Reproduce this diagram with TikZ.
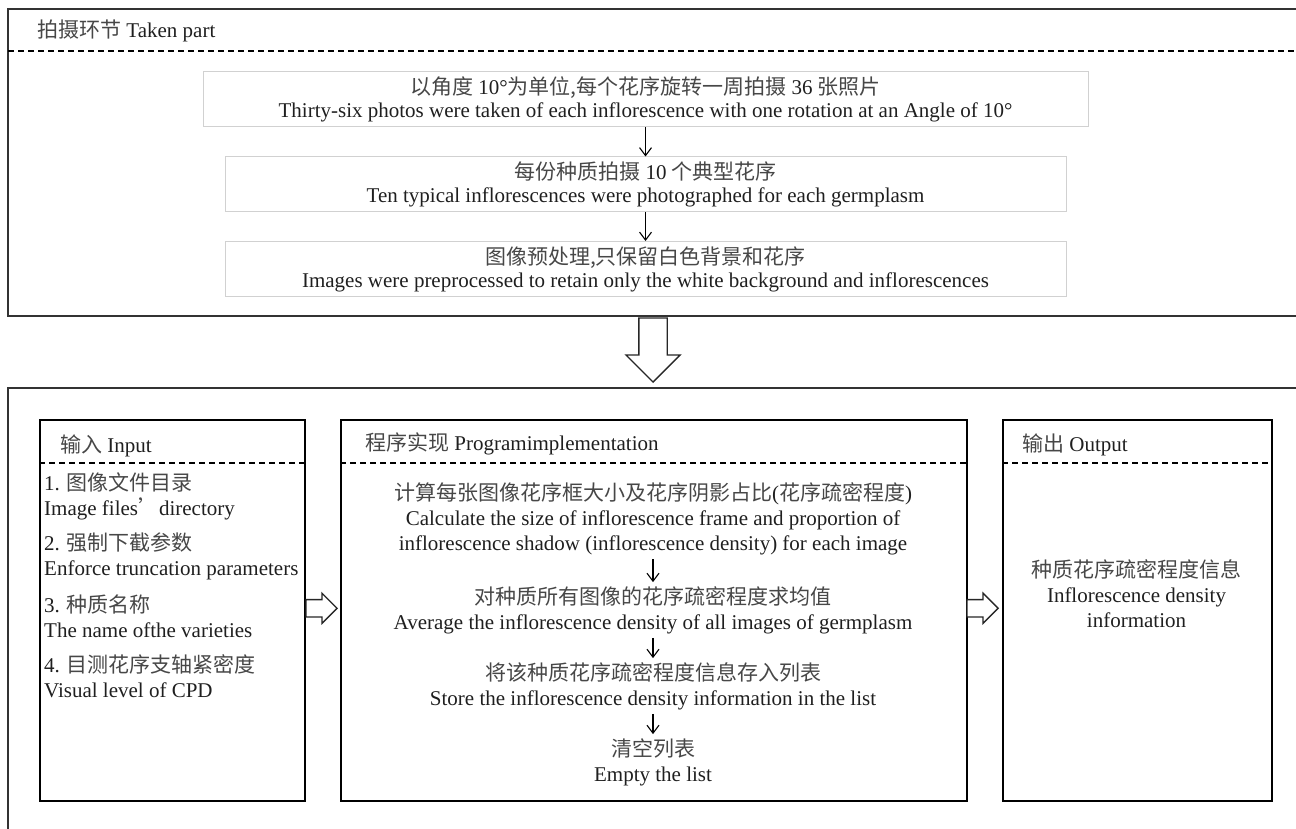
\documentclass[tikz,border=0pt]{standalone}
\usepackage{fontspec}
\setmainfont{Liberation Serif}
\newfontfamily\cjk{Noto Sans CJK SC}
\newcommand{\zh}[1]{{\cjk\color{black!72}#1}}
\usetikzlibrary{arrows.meta,%
		calc,%
		positioning,%
		shapes.arrows}

\begin{document}
\begin{tikzpicture}[x=1pt,y=-1pt,
	font=\fontsize{21}{25}\selectfont,text=black!88,
	frame/.style={draw=black!80,line width=1.8pt},
	panel/.style={draw=black,line width=1.5pt,anchor=north west,inner sep=0pt,minimum height=381pt},
	stepbox/.style={draw=black!18,line width=1pt,minimum height=55pt,align=center,inner sep=0pt,font=\fontsize{21}{23}\selectfont},
	title/.style={anchor=west,inner sep=0pt},
	item/.style={anchor=west,align=left,inner sep=0pt},
	sep/.style={dash pattern=on 6pt off 4pt,line width=1.1pt},
	flow/.style={-{Straight Barb[length=8pt,width=12pt]},line width=1.1pt},
	blockarrow/.style={single arrow,draw=black!85,fill=white,line width=1.3pt,inner xsep=0pt,minimum width=0pt,anchor=tip}]
\useasboundingbox (0,0) rectangle (1296,829);
\clip (0,0) rectangle (1296,829);

%parte alta
\draw[frame] (8,9) rectangle (1320,316);
\draw[sep] (8,51) -- (1320,51);
\node[title] (taken) at (37,31) {\zh{拍摄环节} Taken part};

\node[stepbox,minimum width=885pt] (shot) at (645.5,99.5)
	{\zh{以角度} 10°\zh{为单位,每个花序旋转一周拍摄} 36 \zh{张照片}\\Thirty-six photos were taken of each inflorescence with one rotation at an Angle of 10°};
\node[stepbox,minimum width=841pt] (ten) at (645.5,184.5)
	{\zh{每份种质拍摄} 10 \zh{个典型花序}\\Ten typical inflorescences were photographed for each germplasm};
\node[stepbox,minimum width=841pt] (prep) at (645.5,269)
	{\zh{图像预处理,只保留白色背景和花序}\\Images were preprocessed to retain only the white background and inflorescences};
\draw[flow] (shot) -- (ten);
\draw[flow] (ten) -- (prep);

\node[blockarrow,rotate=-90,minimum height=64pt,inner ysep=13.5pt,single arrow head extend=13pt] (down) at (653,383) {};

%parte bassa
\draw[frame] (8,388) rectangle (1320,850);

\node[panel,minimum width=265pt] (inbox) at (39,419) {};
\node[panel,minimum width=626pt] (prog) at (340,419) {};
\node[panel,minimum width=269pt] (outbox) at (1002,419) {};
\draw[sep] ($(inbox.north west)+(0,44)$) -- ($(inbox.north east)+(0,44)$);
\draw[sep] ($(prog.north west)+(0,44)$) -- ($(prog.north east)+(0,44)$);
\draw[sep] ($(outbox.north west)+(0,44)$) -- ($(outbox.north east)+(0,44)$);
\node[title] (intitle) at ($(inbox.north west)+(21,27)$) {\zh{输入} Input};
\node[title] (progtitle) at ($(prog.north west)+(25,25)$) {\zh{程序实现} Programimplementation};
\node[title] (outtitle) at ($(outbox.north west)+(20,26)$) {\zh{输出} Output};

%input
\node[item] (in1) at (44,496) {1. \zh{图像文件目录}\\Image files\zh{’}directory};
\node[item] (in2) at (44,556) {2. \zh{强制下截参数}\\Enforce truncation parameters};
\node[item] (in3) at (44,616) {3. \zh{种质名称}\\The name ofthe varieties};
\node[item] (in4) at (44,676) {4. \zh{目测花序支轴紧密度}\\Visual level of CPD};

%programma
\node[align=center,inner sep=4pt] (calc) at (653,519)
	{\zh{计算每张图像花序框大小及花序阴影占比}(\zh{花序疏密程度})\\Calculate the size of inflorescence frame and proportion of\\inflorescence shadow (inflorescence density) for each image};
\node[align=center,inner sep=4pt] (avg) at (653,610)
	{\zh{对种质所有图像的花序疏密程度求均值}\\Average the inflorescence density of all images of germplasm};
\node[align=center,inner sep=4pt] (store) at (653,686)
	{\zh{将该种质花序疏密程度信息存入列表}\\Store the inflorescence density information in the list};
\node[align=center,inner sep=4pt] (empty) at (653,762)
	{\zh{清空列表}\\Empty the list};
\draw[flow] (calc) -- (avg);
\draw[flow] (avg) -- (store);
\draw[flow] (store) -- (empty);

%output
\node[align=center] (info) at (1136.5,594)
	{\zh{种质花序疏密程度信息}\\Inflorescence density\\information};

\node[blockarrow,minimum height=31pt,inner ysep=8pt,single arrow head extend=6.5pt] (inarrow) at ($(prog.west)+(-2,-2)$) {};
\node[blockarrow,minimum height=31pt,inner ysep=8pt,single arrow head extend=6.5pt] (outarrow) at ($(outbox.west)+(-3,-2)$) {};
\end{tikzpicture}
\end{document}
